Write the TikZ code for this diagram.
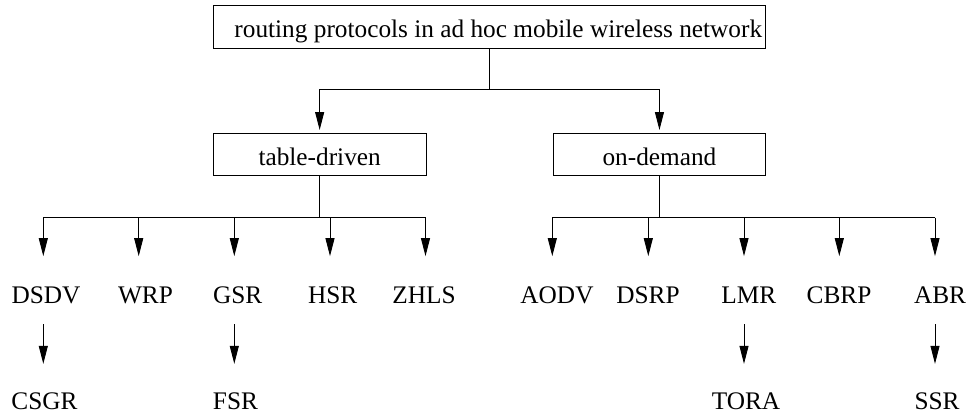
\documentclass[tikz,border=0pt]{standalone}
\usepackage{fontspec}
\setmainfont{Liberation Serif}
\usetikzlibrary{arrows.meta}
\begin{document}
\begin{tikzpicture}[x=1pt,y=-1pt,
  font=\fontsize{25.3}{30}\selectfont,
  line width=0.9pt,
  box/.style={draw, rectangle, inner xsep=0pt, inner ysep=0pt, anchor=north west},
  leaf/.style={inner sep=0pt, text height=16.7pt, text depth=0pt, anchor=base},
  arr/.style={-{Triangle[length=18pt,width=9pt]}}]
\useasboundingbox (0,0) rectangle (969,415);

% category boxes
\node[box, text height=31.4pt, text depth=11pt] (root) at (212.7,5.3)
  {\makebox[552.3pt][l]{\hspace*{21.3pt}routing protocols in ad hoc mobile wireless network}};
\node[box, text height=32.3pt, text depth=10pt] (td) at (212.7,132.7)
  {\makebox[213pt]{table-driven}};
\node[box, text height=32.3pt, text depth=10pt] (od) at (553,132.7)
  {\makebox[212pt]{on-demand}};

% protocol names
\node[leaf] (dsdv) at (46,303.3) {DSDV};
\node[leaf] (wrp)  at (145.5,303.3) {WRP};
\node[leaf] (gsr)  at (237.7,303.3) {GSR};
\node[leaf] (hsr)  at (332.7,303.3) {HSR};
\node[leaf] (zhls) at (424,303.3) {ZHLS};
\node[leaf] (aodv) at (557,303.3) {AODV};
\node[leaf] (dsrp) at (648,303.3) {DSRP};
\node[leaf] (lmr)  at (748.8,303.3) {LMR};
\node[leaf] (cbrp) at (839,303.3) {CBRP};
\node[leaf] (abr)  at (940,303.3) {ABR};
\node[leaf] (csgr) at (44.5,409) {CSGR};
\node[leaf] (fsr)  at (235.5,409) {FSR};
\node[leaf] (tora) at (746,409) {TORA};
\node[leaf] (ssr)  at (937,409) {SSR};

% junctions on the horizontal bars
\coordinate (jt) at (489,89);
\coordinate (jb) at (0,217.7);
\coordinate (t1) at (43.3,217.7);
\coordinate (t2) at (138.7,217.7);
\coordinate (t3) at (234.3,217.7);
\coordinate (t4) at (330,217.7);
\coordinate (t5) at (425.5,217.7);
\coordinate (o1) at (552.3,217.7);
\coordinate (o2) at (648.3,217.7);
\coordinate (o3) at (744,217.7);
\coordinate (o4) at (839.3,217.7);
\coordinate (o5) at (935,217.7);

% root to the two categories
\draw (root.south) -- (root.south |- jt);
\draw (jt -| td.north) -- (jt -| od.north);
\draw[arr, shorten >=2.7pt] (jt -| td.north) -- (td.north);
\draw[arr, shorten >=2.7pt] (jt -| od.north) -- (od.north);

% table-driven protocols
\draw (td.south) -- (td.south |- jb);
\draw (t1) -- (t5);
\foreach \c/\n in {t1/dsdv,t2/wrp,t3/gsr,t4/hsr,t5/zhls}
  \draw[arr, shorten >=30pt] (\c) -- (\c |- \n.north);

% on-demand protocols
\draw (od.south) -- (od.south |- jb);
\draw (o1) -- (o5);
\foreach \c/\n in {o1/aodv,o2/dsrp,o3/lmr,o4/cbrp,o5/abr}
  \draw[arr, shorten >=30pt] (\c) -- (\c |- \n.north);

% derived protocols
\draw[arr, shorten <=20.7pt, shorten >=28pt] (t1 |- dsdv.south) -- (t1 |- csgr.north);
\draw[arr, shorten <=20.7pt, shorten >=28pt] (t3 |- gsr.south) -- (t3 |- fsr.north);
\draw[arr, shorten <=20.7pt, shorten >=28pt] (o3 |- lmr.south) -- (o3 |- tora.north);
\draw[arr, shorten <=20.7pt, shorten >=28pt] (o5 |- abr.south) -- (o5 |- ssr.north);
\end{tikzpicture}
\end{document}
